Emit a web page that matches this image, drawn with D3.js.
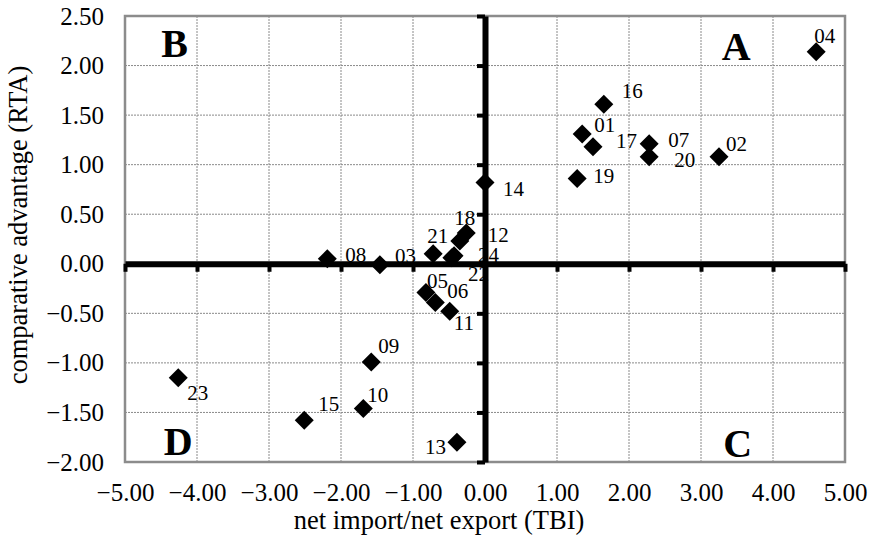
<!DOCTYPE html>
<html>
<head>
<meta charset="utf-8">
<script src="https://cdn.jsdelivr.net/npm/d3@7"></script>
<style>
  body { margin: 0; background: #fff; }
  svg { display: block; }
  svg text { font-family: "Liberation Serif", "Times New Roman", serif; fill: #000; }
  .grid line { stroke: #8a8a8a; stroke-width: 1; stroke-dasharray: 2,1; }
  .zero path, .zero line { stroke: #000; }
</style>
</head>
<body>
<svg id="chart" width="873" height="539"></svg>
<script>
// ── Data ─────────────────────────────────────────────────────────────────────

const codes = ["01","02","03","04","05","06","07","08","09","10","11","12",
               "13","14","15","16","17","18","19","20","21","22","23","24"];
const tbi   = [1.35, 3.25, -1.46, 4.60, -0.82, -0.69, 2.28, -2.19, -1.58, -1.69, -0.49, -0.35,
               -0.39, 0.00, -2.51, 1.65, 1.50, -0.26, 1.28, 2.28, -0.72, -0.46, -4.26, -0.43];
const rta   = [1.31, 1.08, -0.01, 2.14, -0.29, -0.39, 1.21, 0.05, -0.99, -1.46, -0.48, 0.23,
               -1.80, 0.82, -1.58, 1.61, 1.18, 0.31, 0.86, 1.08, 0.10, 0.06, -1.15, 0.08];

const xTicks = [-5, -4, -3, -2, -1, 0, 1, 2, 3, 4, 5];
const yTicks = [-2, -1.5, -1, -0.5, 0, 0.5, 1, 1.5, 2, 2.5];
const quadrants = ["A", "B", "C", "D"];

// label placement (manual, like the source chart): offset from marker centre
const labelOffset = {
  "01": [12, -2], "02": [7, -6],  "03": [15, -2], "04": [-2, -9],
  "05": [1, -5],  "06": [12, -4], "07": [19, 3],  "08": [18, 3],
  "09": [7, -9],  "10": [4, -6],  "11": [4, 19],  "12": [28, 1],
  "13": [-32, 12],"14": [18, 13], "15": [14, -9], "16": [18, -6],
  "17": [23, 1],  "18": [-12, -8],"19": [16, 4],  "20": [25, 10],
  "21": [-6, -11],"22": [16, 23], "23": [9, 22],  "24": [24, 6]
};

// ── Layout ───────────────────────────────────────────────────────────────────

const P = { left: 125, right: 845, top: 16, bottom: 462 };
const svg = d3.select("#chart");

const x = d3.scaleLinear().domain([-5, 5]).range([P.left, P.right]);
const y = d3.scaleLinear().domain([-2, 2.5]).range([P.bottom, P.top]);
const fmt = d3.format(".2f");

// Grid
const grid = svg.append("g").attr("class", "grid");
grid.selectAll(".gx").data(xTicks.slice(1, -1)).join("line")
  .attr("x1", d => x(d)).attr("x2", d => x(d))
  .attr("y1", P.top).attr("y2", P.bottom);
grid.selectAll(".gy").data(yTicks.slice(1, -1)).join("line")
  .attr("x1", P.left).attr("x2", P.right)
  .attr("y1", d => y(d)).attr("y2", d => y(d));

// Plot border
svg.append("rect")
  .attr("x", P.left).attr("y", P.top)
  .attr("width", P.right - P.left).attr("height", P.bottom - P.top)
  .attr("fill", "none").attr("stroke", "#8c8c8c").attr("stroke-width", 2.5);

// Quadrant letters
const qPos = { A: [3.49, 2.06], B: [-4.31, 2.09], C: [3.51, -1.95], D: [-4.26, -1.93] };
svg.append("g").selectAll("text").data(quadrants).join("text")
  .attr("x", d => x(qPos[d][0]))
  .attr("y", d => y(qPos[d][1]))
  .attr("text-anchor", "middle")
  .attr("font-size", 40).attr("font-weight", "bold")
  .text(d => d);

// Points
const pts = codes.map((c, i) => ({ code: c, x: tbi[i], y: rta[i] }));
const r = 9.5;
svg.append("g").selectAll("path").data(pts).join("path")
  .attr("transform", d => `translate(${x(d.x)},${y(d.y)})`)
  .attr("d", `M0,${-r}L${r},0L0,${r}L${-r},0Z`)
  .attr("fill", "#000");

// Point labels
svg.append("g").selectAll("text").data(pts).join("text")
  .attr("x", d => x(d.x) + labelOffset[d.code][0])
  .attr("y", d => y(d.y) + labelOffset[d.code][1])
  .attr("font-size", 21)
  .text(d => d.code);

// Zero axes (thick, drawn on top)
const xZero = svg.append("g").attr("class", "zero")
  .attr("transform", `translate(0,${y(0)})`)
  .call(d3.axisBottom(x).tickValues(xTicks).tickFormat("").tickSize(8).tickSizeOuter(0));
xZero.select(".domain").attr("stroke-width", 6);
xZero.selectAll(".tick line").attr("stroke-width", 4);

const yZero = svg.append("g").attr("class", "zero")
  .attr("transform", `translate(${x(0)},0)`)
  .call(d3.axisLeft(y).tickValues(yTicks).tickFormat("").tickSize(8).tickSizeOuter(0));
yZero.select(".domain").attr("stroke-width", 6);
yZero.selectAll(".tick line").attr("stroke-width", 4);

// Tick labels on the outside
const xLab = svg.append("g")
  .attr("transform", `translate(0,${P.bottom})`)
  .call(d3.axisBottom(x).tickValues(xTicks).tickFormat(fmt).tickSize(0).tickPadding(21));
xLab.select(".domain").remove();
xLab.selectAll("text").attr("font-size", 25).attr("font-family", "Liberation Serif");

const yLab = svg.append("g")
  .attr("transform", `translate(${P.left},0)`)
  .call(d3.axisLeft(y).tickValues(yTicks).tickFormat(fmt).tickSize(0).tickPadding(21));
yLab.select(".domain").remove();
yLab.selectAll("text").attr("font-size", 25).attr("font-family", "Liberation Serif");

// Axis titles
svg.append("text")
  .attr("x", 439).attr("y", 529)
  .attr("text-anchor", "middle").attr("font-size", 26.5)
  .text("net import/net export (TBI)");

svg.append("text")
  .attr("transform", "translate(27,225) rotate(-90)")
  .attr("text-anchor", "middle").attr("font-size", 26.5)
  .text("comparative advantage (RTA)");
</script>
</body>
</html>
